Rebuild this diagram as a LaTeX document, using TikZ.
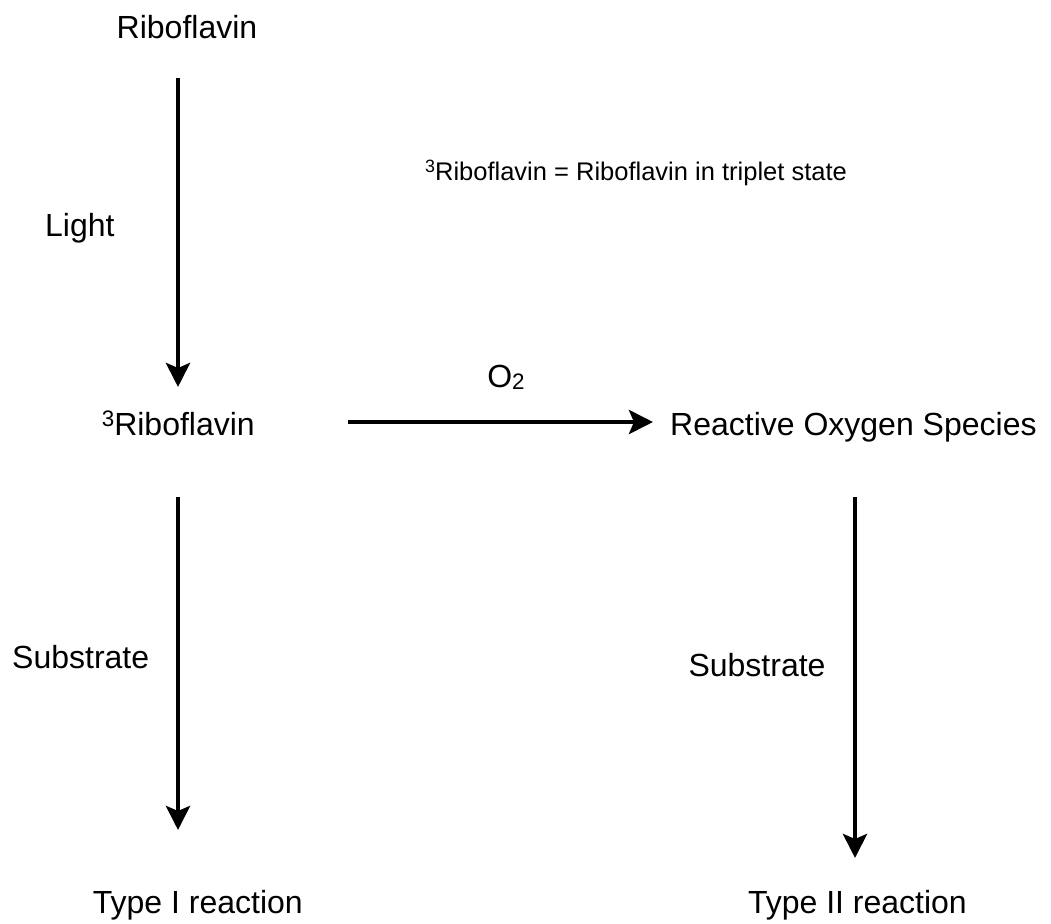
\documentclass[tikz,border=0pt]{standalone}
\usepackage{fontspec}
\setmainfont{Liberation Sans}
\usetikzlibrary{arrows.meta}
\newcommand{\supthree}{\raisebox{0.28em}{\scalebox{0.7}{3}}}
\begin{document}
\begin{tikzpicture}[x=1pt,y=-1pt,
  lbl/.style={inner sep=0pt,font=\fontsize{32}{38}\selectfont},
  note/.style={inner sep=0pt,font=\fontsize{25.5}{30}\selectfont},
  arr/.style={line width=4.5pt,-{Stealth[length=24pt,width=24pt,inset=5pt]}}]
\useasboundingbox (0,0) rectangle (1051,923);
% text nodes
\node[lbl,anchor=base] (rib) at (187,39) {Riboflavin};
\node[lbl,anchor=base west] (light) at (45,236) {Light};
\node[lbl,anchor=base east] (trip) at (255,435) {\supthree Riboflavin};
\node[lbl,anchor=base] (o2) at (506,387) {O\raisebox{-0.08em}{\scalebox{0.7}{2}}};
\node[lbl,anchor=base west] (ros) at (670,435) {Reactive Oxygen Species};
\node[note,anchor=base west] (def) at (425,180) {\supthree Riboflavin = Riboflavin in triplet state};
\node[lbl,anchor=base west] (sub1) at (12,668) {Substrate};
\node[lbl,anchor=base] (sub2) at (757,676) {Substrate};
\node[lbl,anchor=base east] (t1) at (303,913) {Type I reaction};
\node[lbl,anchor=base east] (t2) at (967,913) {Type II reaction};
% arrow end points
\coordinate (a1s) at (178,78);
\coordinate (a1e) at (178,387);
\coordinate (a2s) at (348,422);
\coordinate (a2e) at (653,422);
\coordinate (a3s) at (178,497);
\coordinate (a3e) at (178,830);
\coordinate (a4s) at (855,497);
\coordinate (a4e) at (855,858);
\draw[arr] (a1s) -- (a1e);
\draw[arr] (a2s) -- (a2e);
\draw[arr] (a3s) -- (a3e);
\draw[arr] (a4s) -- (a4e);
\end{tikzpicture}
\end{document}
